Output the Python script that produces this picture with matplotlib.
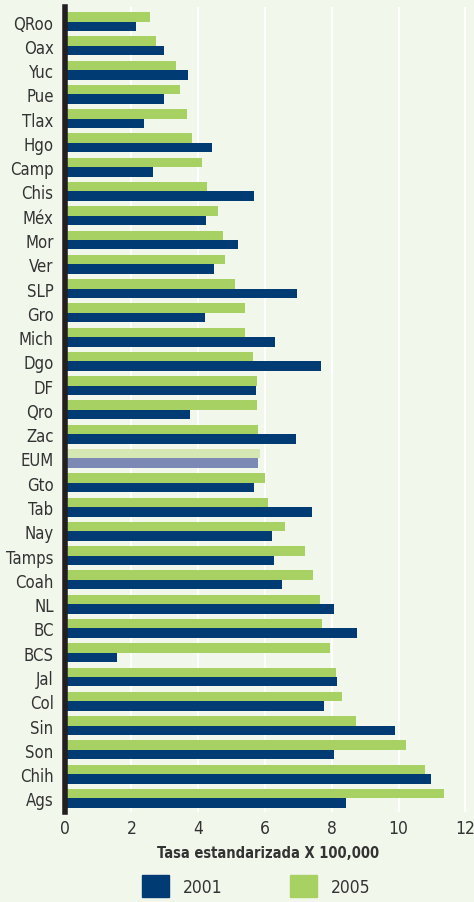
import matplotlib
matplotlib.use("Agg")
import matplotlib.pyplot as plt
from matplotlib import font_manager
import numpy as np
from matplotlib.patches import Patch

BLUE, GREEN = "#003b73", "#a8d164"
BLUE_EUM, GREEN_EUM = "#7b89b4", "#d5e7b3"
BG = "#f2f7ec"
TXT = "#333333"

states = ["QRoo", "Oax", "Yuc", "Pue", "Tlax", "Hgo", "Camp", "Chis", "Méx", "Mor",
          "Ver", "SLP", "Gro", "Mich", "Dgo", "DF", "Qro", "Zac", "EUM", "Gto",
          "Tab", "Nay", "Tamps", "Coah", "NL", "BC", "BCS", "Jal", "Col", "Sin",
          "Son", "Chih", "Ags"]
v2005 = [2.55, 2.73, 3.33, 3.45, 3.66, 3.81, 4.11, 4.26, 4.59, 4.74,
         4.80, 5.10, 5.40, 5.40, 5.64, 5.76, 5.76, 5.79, 5.85, 6.00,
         6.09, 6.60, 7.20, 7.44, 7.64, 7.70, 7.94, 8.12, 8.30, 8.72,
         10.22, 10.79, 11.36]
v2001 = [2.14, 2.97, 3.69, 2.97, 2.38, 4.41, 2.64, 5.67, 4.23, 5.19,
         4.47, 6.96, 4.20, 6.30, 7.67, 5.73, 3.75, 6.93, 5.79, 5.67,
         7.41, 6.21, 6.27, 6.51, 8.06, 8.75, 1.57, 8.15, 7.76, 9.89,
         8.06, 10.97, 8.42]

# pick a condensed face if one is installed, else Roboto
fonts = font_manager.fontManager.ttflist
names = {f.name for f in fonts}
stretch = "normal"
if "Liberation Sans Narrow" in names:
    family = "Liberation Sans Narrow"
elif any(f.name == "DejaVu Sans" and f.stretch == "condensed" for f in fonts):
    family, stretch = "DejaVu Sans", "condensed"
elif "Roboto Condensed" in names:
    family = "Roboto Condensed"
else:
    family = "Roboto"
plt.rcParams["font.family"] = [family, "DejaVu Sans"]
plt.rcParams["font.stretch"] = stretch

fig = plt.figure(figsize=(4.74, 9.03), dpi=100, facecolor=BG)
ax = fig.add_axes([0.1365, 0.0997, 0.8595, 0.8915], facecolor=BG)

y = np.arange(len(states))
h = 0.39
c05 = [GREEN_EUM if s == "EUM" else GREEN for s in states]
c01 = [BLUE_EUM if s == "EUM" else BLUE for s in states]
ax.barh(y - h / 2, v2005, height=h, color=c05, zorder=2)
ax.barh(y + h / 2, v2001, height=h, color=c01, zorder=2)

ax.set_ylim(len(states) - 1 + 0.56, -0.6)
ax.set_xlim(0, 12.2)
ax.set_yticks(y)
ax.set_yticklabels(states, fontsize=12, color=TXT)
ax.set_xticks(range(0, 13, 2))
ax.tick_params(axis="x", length=0, labelsize=12.5, labelcolor=TXT, pad=5)
ax.tick_params(axis="y", length=0, pad=8)
ax.grid(axis="x", color="white", linewidth=1.5, zorder=0)
ax.set_axisbelow(True)
for s in ["top", "right", "bottom"]:
    ax.spines[s].set_visible(False)
ax.spines["left"].set_color("#231f20")
ax.spines["left"].set_linewidth(4)
ax.spines["left"].set_zorder(3)

ax.set_xlabel("Tasa estandarizada X 100,000", fontsize=10.5, fontweight="bold",
              color=TXT, labelpad=6)

handles = [Patch(color=BLUE, label="2001"), Patch(color=GREEN, label="2005")]
fig.legend(handles=handles, loc="center", bbox_to_anchor=(0.54, 1 - 887 / 903),
           ncol=2, frameon=False, fontsize=12.5, handlelength=1.55, handleheight=1.55,
           handletextpad=0.8, columnspacing=3.9, labelcolor=TXT, borderpad=0)

fig.savefig("out.png", dpi=100, facecolor=BG)
